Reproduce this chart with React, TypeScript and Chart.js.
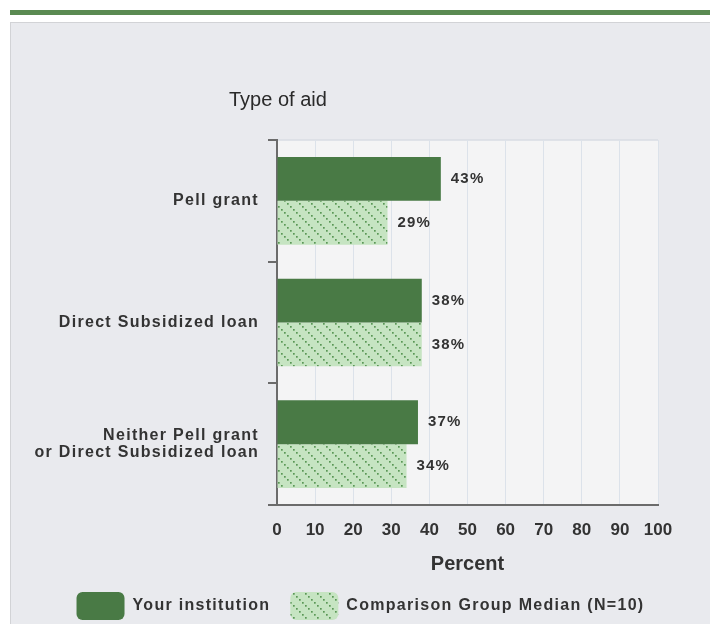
import React, { useEffect, useRef } from "react";
import { Chart, registerables } from "chart.js";

Chart.register(...registerables);

const categories: string[][] = [
  ["Pell grant"],
  ["Direct Subsidized loan"],
  ["Neither Pell grant", "or Direct Subsidized loan"],
];
const yourInstitution = [43, 38, 37];
const comparisonMedian = [29, 38, 34];
const seriesNames = ["Your institution", "Comparison Group Median (N=10)"];
const axisMin = 0;
const axisMax = 100;
const axisStep = 10;
const yAxisTitle = "Type of aid";
const xAxisTitle = "Percent";

const DARK = "#497a45";
const LIGHT = "#c6e4c2";
const DOT = "#5a9756";
const TEXT = "#333333";
const SANS = "'Liberation Sans', Arial, sans-serif";
const SPACING = "1.3px";

function makePattern(): CanvasPattern | string {
  const c = document.createElement("canvas");
  c.width = 12;
  c.height = 12;
  const g = c.getContext("2d");
  if (!g) return LIGHT;
  g.fillStyle = LIGHT;
  g.fillRect(0, 0, 12, 12);
  g.fillStyle = DOT;
  for (let i = 0; i < 12; i += 3) g.fillRect(i, i, 1.7, 1.7);
  const p = g.createPattern(c, "repeat");
  return p || LIGHT;
}

const spacingPlugin = {
  id: "spacing",
  beforeUpdate(chart: any) {
    chart.ctx.letterSpacing = SPACING;
  },
  beforeDraw(chart: any) {
    const ctx = chart.ctx;
    ctx.letterSpacing = SPACING;
    const xs = chart.scales.x;
    if (xs && !xs.__patched) {
      xs.__patched = true;
      const dl = xs.drawLabels.bind(xs);
      xs.drawLabels = (a: any) => {
        ctx.save();
        ctx.letterSpacing = "0px";
        dl(a);
        ctx.restore();
      };
      const dt = xs.drawTitle.bind(xs);
      xs.drawTitle = (a: any) => {
        ctx.save();
        ctx.letterSpacing = "0px";
        dt(a);
        ctx.restore();
      };
    }
    const { left, top, right, bottom } = chart.chartArea;
    ctx.save();
    ctx.fillStyle = "#f4f4f5";
    ctx.fillRect(left, top, right - left, bottom - top);
    ctx.strokeStyle = "#d9dde3";
    ctx.lineWidth = 1.5;
    ctx.beginPath();
    ctx.moveTo(left, top);
    ctx.lineTo(right, top);
    ctx.stroke();
    ctx.restore();
  },
  afterDraw(chart: any) {
    const ctx = chart.ctx;
    const { left } = chart.chartArea;
    ctx.save();
    ctx.letterSpacing = "0px";
    ctx.font = `20px ${SANS}`;
    ctx.fillStyle = "#2a2a2a";
    ctx.textAlign = "left";
    ctx.textBaseline = "middle";
    ctx.fillText(yAxisTitle, left - 48, 77);
    ctx.restore();
  },
  afterDatasetsDraw(chart: any) {
    const ctx = chart.ctx;
    ctx.save();
    ctx.letterSpacing = "1.2px";
    ctx.font = `bold 15px ${SANS}`;
    ctx.fillStyle = TEXT;
    ctx.textAlign = "left";
    ctx.textBaseline = "middle";
    chart.data.datasets.forEach((ds: any, di: number) => {
      const meta = chart.getDatasetMeta(di);
      meta.data.forEach((bar: any, i: number) => {
        ctx.fillText(`${ds.data[i]}%`, bar.x + 10, bar.y);
      });
    });
    ctx.restore();
  },
};

export default function App() {
  const ref = useRef<HTMLCanvasElement | null>(null);

  useEffect(() => {
    document.documentElement.style.overflow = "hidden";
    const canvas = ref.current;
    if (!canvas) return;
    const pattern = makePattern();
    const chart = new Chart(canvas, {
      type: "bar",
      data: {
        labels: categories,
        datasets: [
          {
            label: seriesNames[0],
            data: yourInstitution,
            backgroundColor: DARK,
            borderWidth: 0,
            borderRadius: 0,
          },
          {
            label: seriesNames[1],
            data: comparisonMedian,
            backgroundColor: pattern as any,
            borderWidth: 0,
            borderRadius: 0,
          },
        ],
      },
      options: {
        indexAxis: "y",
        responsive: false,
        animation: false,
        devicePixelRatio: 1,
        datasets: { bar: { categoryPercentage: 0.72, barPercentage: 1.0 } },
        layout: { padding: { left: 0, right: 0, top: 117, bottom: 33 } },
        plugins: {
          tooltip: { enabled: false },
          title: { display: false },
          legend: {
            display: true,
            position: "bottom",
            labels: {
              boxWidth: 48,
              boxHeight: 28,
              useBorderRadius: true,
              borderRadius: 6,
              padding: 20,
              color: TEXT,
              font: { family: SANS, size: 16, weight: "bold" },
            },
          },
        },
        scales: {
          x: {
            type: "linear",
            min: axisMin,
            max: axisMax,
            ticks: {
              stepSize: axisStep,
              color: TEXT,
              padding: 15,
              maxRotation: 0,
              minRotation: 0,
              autoSkip: false,
              font: { family: SANS, size: 17, weight: "bold" },
            },
            grid: { color: "#dce2ea", lineWidth: 1, drawTicks: false },
            border: { display: true, color: "#6b6b6b", width: 2 },
            title: {
              display: true,
              text: xAxisTitle,
              color: TEXT,
              font: { family: SANS, size: 20, weight: "bold", lineHeight: 1 },
              padding: { top: 0, bottom: -2 },
            },
            afterFit: (s: any) => {
              s.height = 67;
            },
          },
          y: {
            type: "category",
            ticks: {
              color: TEXT,
              padding: 9,
              font: { family: SANS, size: 16, weight: "bold", lineHeight: 1.1 },
            },
            grid: {
              offset: true,
              drawOnChartArea: false,
              drawTicks: true,
              tickLength: 9,
              color: "#6b6b6b",
              lineWidth: 2,
            },
            border: { display: true, color: "#6b6b6b", width: 2 },
            afterFit: (s: any) => {
              s.width = 266;
            },
          },
          y2: {
            type: "category",
            position: "right",
            ticks: { display: false },
            grid: { display: false },
            border: { display: false },
            afterFit: (s: any) => {
              s.width = 52;
            },
          },
        },
      },
      plugins: [spacingPlugin],
    });
    return () => chart.destroy();
  }, []);

  return (
    <div>
      <div
        style={{
          position: "fixed",
          left: 10,
          top: 10,
          width: 700,
          height: 5,
          background: "#5a8a52",
        }}
      />
      <div
        style={{
          position: "fixed",
          left: 10,
          top: 22,
          width: 702,
          height: 640,
          background: "#e9eaee",
          border: "1px solid #d2d3d6",
          boxSizing: "border-box",
          overflow: "hidden",
        }}
      >
        <canvas ref={ref} width={699} height={640} style={{ display: "block" }} />
      </div>
    </div>
  );
}
